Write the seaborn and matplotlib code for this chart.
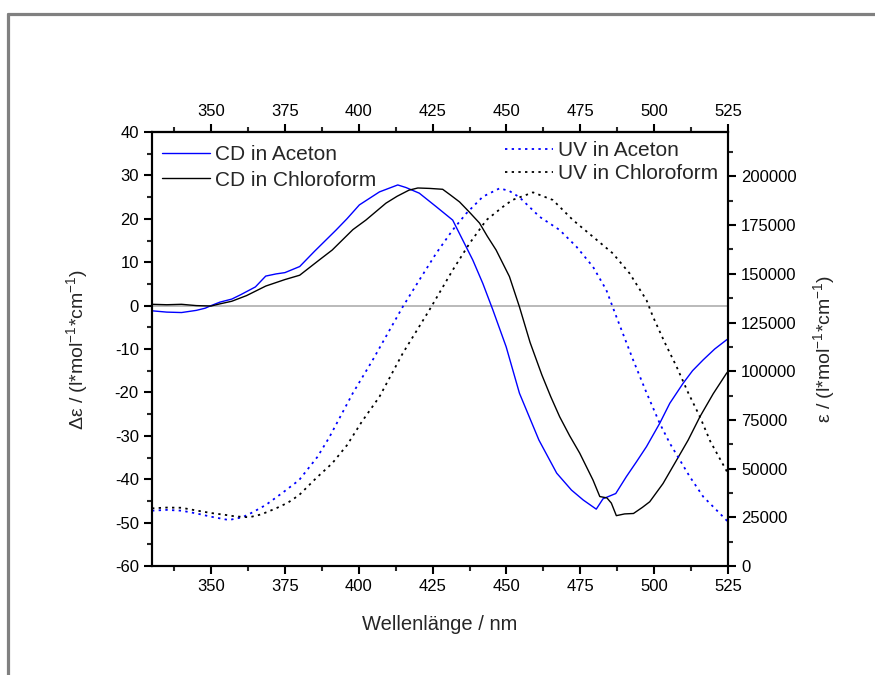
import matplotlib
matplotlib.use("Agg")
import matplotlib.pyplot as plt
import seaborn as sns
from matplotlib.ticker import MultipleLocator
from matplotlib.lines import Line2D

# CD spectra (left axis, delta epsilon)
cd_aceton_nm = [330, 335, 340, 345, 348, 350, 353, 357, 360, 365, 368.5, 372, 375, 380, 385,
                392.3, 396, 400.2, 407, 413.2, 416, 420.5, 426.2, 431.8, 435.2, 438.6, 442,
                445.4, 449.9, 454.4, 461, 467, 472, 476, 480.4, 482.7, 484.5, 487, 490.6, 494,
                497.4, 501.9, 505.3, 509.8, 513, 516.6, 520.5, 524.5, 525]
cd_aceton = [-1.2, -1.5, -1.6, -1.1, -0.6, 0.0, 0.8, 1.5, 2.5, 4.3, 6.8, 7.3, 7.6, 9.0, 12.5,
             17.4, 20.0, 23.2, 26.2, 27.8, 27.2, 25.9, 22.8, 19.7, 15.1, 10.5, 5.1,
             -1.0, -9.5, -20.2, -31.0, -38.6, -42.5, -44.8, -46.9, -44.5, -44.0, -43.3, -39.4, -36.0,
             -32.5, -27.1, -22.5, -17.9, -15.0, -12.5, -10.0, -7.9, -7.7]

cd_chloro_nm = [330, 335, 340, 345, 350, 353, 357, 362, 368.5, 375, 380, 386.6, 391, 398,
                402.4, 409.2, 413, 417, 420, 424, 428.4, 431, 434.1, 437.5, 440.9, 443.5,
                446.5, 451, 454.4, 458, 462, 465, 468, 471.4, 474.8, 479.3, 481.6, 484, 485.5,
                487.2, 490, 493, 496, 498.5, 503, 507.6, 511.5, 515.5, 520, 524.5, 525]
cd_chloro = [0.3, 0.2, 0.3, 0.0, -0.1, 0.4, 1.0, 2.3, 4.5, 6.0, 7.0, 10.5, 12.8, 17.5,
             19.7, 23.6, 25.2, 26.6, 27.1, 27.0, 26.8, 25.5, 23.9, 21.5, 19.0, 16.0,
             12.8, 6.7, -0.3, -8.5, -16.0, -21.0, -25.6, -30.0, -34.0, -40.2, -44.0, -44.3, -45.5,
             -48.4, -48.0, -47.9, -46.5, -45.2, -41.0, -35.6, -31.0, -25.6, -20.3, -15.6, -15.2]

# UV spectra (right axis, epsilon)
uv_aceton_nm = [330, 335, 340, 345, 350, 356, 360.6, 364, 368.5, 374.2, 379.8, 386, 390, 397.9,
                404.7, 414.9, 420.5, 426.2, 431.8, 436.4, 442, 447.7, 451, 454.4, 461.2, 468,
                473.7, 479.3, 483.8, 487.2, 492.9, 497.4, 501.9, 505.3, 508.7, 512, 516.6, 520, 525]
uv_aceton = [28400, 28800, 28400, 27000, 25300, 23600, 25000, 27500, 31300, 37600, 44100, 56000,
             66000, 88500, 105700, 133100, 146800, 160500, 172500, 181000, 189600, 193900,
             192500, 189300, 179300, 172500, 163900, 153600, 141700, 128000, 105700, 89000,
             73200, 63000, 54400, 46000, 35600, 30400, 22700]

uv_chloro_nm = [330, 335, 340, 345, 350, 355, 358, 362.9, 367, 372, 376, 379.8, 385.5, 391,
                396, 401, 407, 414.9, 423.9, 431.8, 437.5, 443.2, 448.8, 452, 459, 465.7,
                472.5, 479.3, 486, 491.7, 497.4, 499.6, 503.5, 507.6, 511.5, 515.5, 519, 525]
uv_chloro = [29600, 30000, 29900, 28500, 27200, 26200, 25500, 25000, 26500, 29600, 32500,
             36400, 45000, 52700, 62000, 74000, 86900, 109200, 131400, 151900, 165600,
             177600, 184400, 187900, 191800, 187900, 177600, 169000, 160500, 150200, 136500,
             128000, 115000, 102300, 89000, 76600, 64000, 47500]

sns.set_theme(style="white")
plt.rcParams['font.family'] = ['Liberation Sans', 'DejaVu Sans']
plt.rcParams['mathtext.fontset'] = 'custom'
plt.rcParams['mathtext.rm'] = 'Liberation Sans'
plt.rcParams['mathtext.it'] = 'Liberation Sans:italic'
plt.rcParams['mathtext.default'] = 'regular'
plt.rcParams['axes.unicode_minus'] = False

fig = plt.figure(figsize=(8.75, 6.75), dpi=100)
ax = fig.add_axes([152 / 875, 1 - 566 / 675, 576 / 875, 434 / 675])
ax2 = ax.twinx()

# frame of the original page
fig.add_artist(Line2D([8 / 875, 1], [1 - 14 / 675, 1 - 14 / 675], transform=fig.transFigure,
                      color='#808080', lw=2.3))
fig.add_artist(Line2D([8 / 875, 8 / 875], [0, 1 - 14 / 675], transform=fig.transFigure,
                      color='#808080', lw=2.3))

ax.axhline(0, color='#b4b4b4', lw=1.3, zorder=1)

sns.lineplot(x=cd_aceton_nm, y=cd_aceton, ax=ax, color='#0000ff', lw=1.0,
             sort=False, estimator=None, label='CD in Aceton')
sns.lineplot(x=cd_chloro_nm, y=cd_chloro, ax=ax, color='black', lw=1.0,
             sort=False, estimator=None, label='CD in Chloroform')
sns.lineplot(x=uv_aceton_nm, y=uv_aceton, ax=ax2, color='#0000ff', lw=1.3,
             linestyle=(0, (1.3, 2.4)), sort=False, estimator=None, label='UV in Aceton')
sns.lineplot(x=uv_chloro_nm, y=uv_chloro, ax=ax2, color='black', lw=1.3,
             linestyle=(0, (1.3, 2.4)), sort=False, estimator=None, label='UV in Chloroform')

ax.set_xlim(330, 525)
ax.set_ylim(-60, 40)
ax2.set_ylim(0, 222800)

ax.xaxis.set_major_locator(MultipleLocator(25))
ax.xaxis.set_minor_locator(MultipleLocator(12.5))
ax.yaxis.set_major_locator(MultipleLocator(10))
ax.yaxis.set_minor_locator(MultipleLocator(5))
ax2.yaxis.set_major_locator(MultipleLocator(25000))
ax2.yaxis.set_minor_locator(MultipleLocator(12500))

top = ax.secondary_xaxis('top')
top.xaxis.set_major_locator(MultipleLocator(25))
top.xaxis.set_minor_locator(MultipleLocator(12.5))

for a in (ax, ax2, top):
    for s in a.spines.values():
        s.set_linewidth(1.5)
        s.set_color('black')
    a.tick_params(which='major', direction='out', length=6, width=1.5, labelsize=12,
                  pad=3.5, colors='black')
    a.tick_params(which='minor', direction='out', length=3.5, width=1.5)

ax.tick_params(axis='both', which='both', bottom=True, left=True)
ax2.tick_params(axis='y', which='both', right=True)
top.tick_params(axis='x', which='both', top=True)

ax.set_xlabel('Wellenlänge / nm', fontsize=14.5, labelpad=15)
ax.set_ylabel(r'Δε / (l*mol$^{-1}$*cm$^{-1}$)', fontsize=14)
ax2.set_ylabel(r'ε / (l*mol$^{-1}$*cm$^{-1}$)', fontsize=14, rotation=90, labelpad=10)
ax.yaxis.set_label_coords(-0.108, 0.5)

ax.legend(loc='upper left', bbox_to_anchor=(-0.005, 0.998), frameon=False, fontsize=15,
          handlelength=2.3, handletextpad=0.25, labelspacing=0.3, borderaxespad=0.2)
ax2.legend(loc='upper right', bbox_to_anchor=(1.005, 1.008), frameon=False, fontsize=15,
           handlelength=2.3, handletextpad=0.25, labelspacing=0.2, borderaxespad=0.2)

plt.savefig('out.png', dpi=100)
